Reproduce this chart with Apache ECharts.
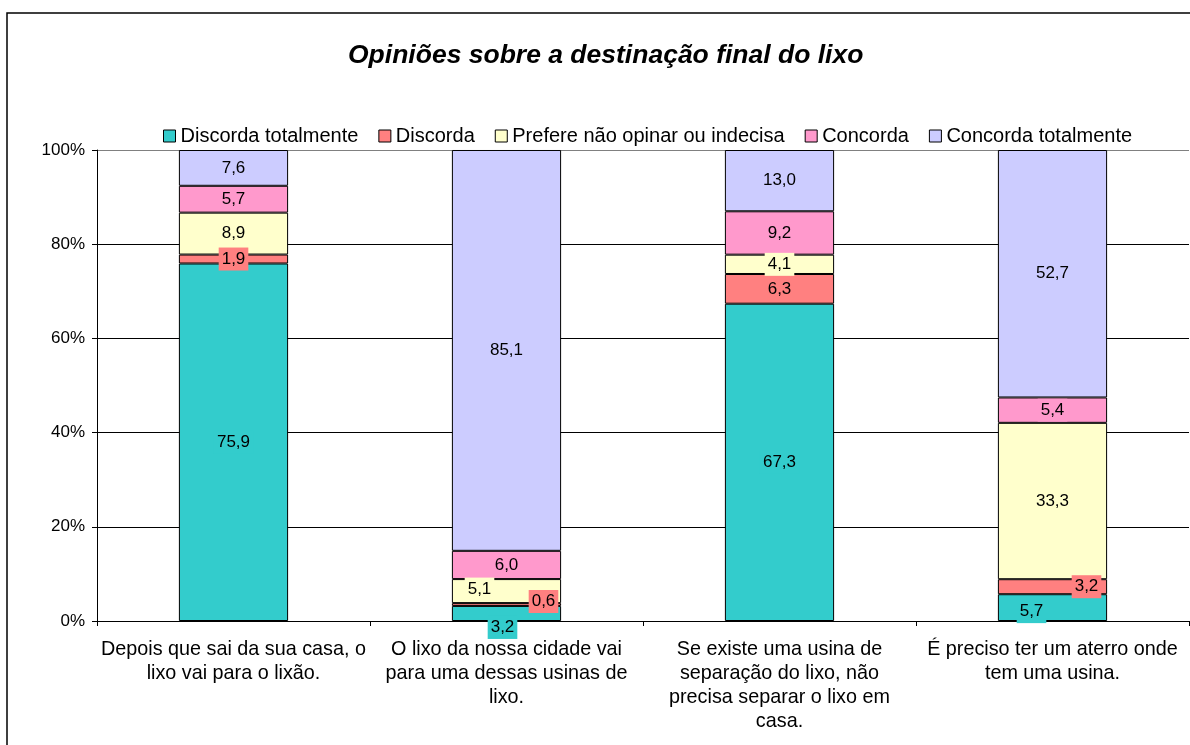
<!DOCTYPE html>
<html>
<head>
<meta charset="utf-8">
<script src="https://cdn.jsdelivr.net/npm/echarts@6/dist/echarts.min.js"></script>
<style>
  html, body { margin: 0; padding: 0; background: #fff; }
  #chart { width: 1190px; height: 745px; }
</style>
</head>
<body>
<div id="chart"></div>
<script>
/* 数据：四个问题，五个意见等级（百分比） */
var categories = [
    "Depois que sai da sua casa, o\nlixo vai para o lixão.",
    "O lixo da nossa cidade vai\npara uma dessas usinas de\nlixo.",
    "Se existe uma usina de\nseparação do lixo, não\nprecisa separar o lixo em\ncasa.",
    "É preciso ter um aterro onde\ntem uma usina."
];
var seriesNames = ["Discorda totalmente", "Discorda", "Prefere não opinar ou indecisa", "Concorda", "Concorda totalmente"];
var discordaTotalmente = [75.9, 3.2, 67.3, 5.7];
var discorda = [1.9, 0.6, 6.3, 3.2];
var indecisa = [8.9, 5.1, 4.1, 33.3];
var concorda = [5.7, 6.0, 9.2, 5.4];
var concordaTotalmente = [7.6, 85.1, 13.0, 52.7];

var COLORS = ["#33CCCC", "#FF8080", "#FFFFCC", "#FF99CC", "#CCCCFF"];
var FONT = "'Liberation Sans', Arial, sans-serif";

/* 个别标签在原图中被手动挪开 */
var labelOffsets = {
    "0-1": [-4, 14],
    "1-1": [37, -3],
    "2-1": [-27, -2],
    "0-3": [-21, 4],
    "1-3": [34, 0]
};

var rows = [discordaTotalmente, discorda, indecisa, concorda, concordaTotalmente];
var totals = categories.map(function (c, j) {
    var t = 0;
    for (var i = 0; i < rows.length; i++) { t += rows[i][j]; }
    return t;
});

var series = rows.map(function (vals, i) {
    return {
        name: seriesNames[i],
        type: "bar",
        stack: "total",
        barWidth: "40%",
        itemStyle: { color: COLORS[i], borderColor: "#000", borderWidth: 1 },
        label: {
            show: true,
            position: "inside",
            color: "#000",
            fontFamily: FONT,
            fontSize: 17,
            backgroundColor: COLORS[i],
            padding: [3, 3],
            formatter: function (p) {
                return vals[p.dataIndex].toFixed(1).replace(".", ",");
            }
        },
        data: vals.map(function (v, j) {
            var item = { value: v / totals[j] * 100 };
            var off = labelOffsets[i + "-" + j];
            if (off) { item.label = { offset: off }; }
            return item;
        })
    };
});

var chart = echarts.init(document.getElementById("chart"));
chart.setOption({
    animation: false,
    textStyle: { fontFamily: FONT },
    title: {
        text: "Opiniões sobre a destinação final do lixo",
        left: 343,
        top: 37,
        textStyle: { fontFamily: FONT, fontSize: 26.5, fontWeight: "bold", fontStyle: "italic", color: "#000" }
    },
    legend: {
        left: 158,
        top: 121,
        itemWidth: 12,
        itemHeight: 12,
        itemGap: 20,
        icon: "rect",
        itemStyle: { borderColor: "#000", borderWidth: 1 },
        textStyle: { fontFamily: FONT, fontSize: 20, color: "#000" },
        data: seriesNames
    },
    graphic: [{
        type: "rect",
        shape: { x: 7, y: 13, width: 1250, height: 800 },
        style: { fill: "none", stroke: "#000", lineWidth: 1.5 },
        silent: true
    }],
    grid: { left: 97, top: 150, right: 1, bottom: 124 },
    xAxis: {
        type: "category",
        data: categories,
        axisLine: { lineStyle: { color: "#000" } },
        axisTick: { show: true, alignWithLabel: false, length: 5, lineStyle: { color: "#000" } },
        axisLabel: { interval: 0, margin: 17, color: "#000", fontFamily: FONT, fontSize: 19.8, lineHeight: 24 }
    },
    yAxis: {
        type: "value",
        min: 0,
        max: 100,
        interval: 20,
        axisLine: { show: true, lineStyle: { color: "#000" } },
        axisTick: { show: true, length: 5, lineStyle: { color: "#000" } },
        axisLabel: { formatter: "{value}%", margin: 12, color: "#000", fontFamily: FONT, fontSize: 17 },
        splitLine: { lineStyle: { color: ["#000", "#000", "#000", "#000", "#000", "#808080"], width: 1 } }
    },
    series: series
});
</script>
</body>
</html>
